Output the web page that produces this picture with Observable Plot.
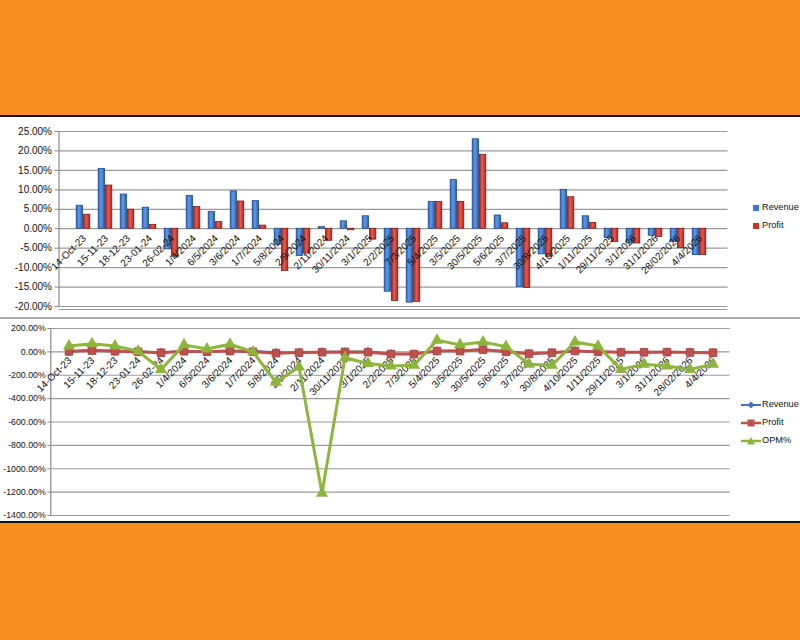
<!DOCTYPE html>
<html>
<head>
<meta charset="utf-8">
<script src="https://cdn.jsdelivr.net/npm/d3@7"></script>
<script src="https://cdn.jsdelivr.net/npm/@observablehq/plot@0.6"></script>
<style>
  html, body { margin: 0; padding: 0; }
  body { width: 800px; height: 640px; background: #F7901E; position: relative; overflow: hidden; font-family: "Liberation Sans", Arial, sans-serif; }
  #panel { position: absolute; left: 0; top: 115px; width: 800px; height: 408px; background: #fff; border-top: 2px solid #111; border-bottom: 2px solid #111; box-sizing: border-box; }
  #sep { position: absolute; left: 0; top: 317px; width: 800px; height: 2px; background: #a8a8a8; }
  #topchart, #bottomchart { position: absolute; left: 0; }
  #topchart { top: 118px; }
  #bottomchart { top: 320px; }
  .legend { position: absolute; font-size: 9.2px; color: #111; line-height: 1; }
  .legend div { height: 18px; display: flex; align-items: center; white-space: nowrap; }
  .sw { display: inline-block; width: 6px; height: 6px; margin-right: 3px; }
</style>
</head>
<body>
<div id="panel"></div>
<div id="sep"></div>
<div id="topchart"></div>
<div id="bottomchart"></div>
<div class="legend" id="leg1" style="left:753px; top:199px;">
  <div><span class="sw" style="background:#3B78CF"></span>Revenue</div>
  <div><span class="sw" style="background:#C9352C"></span>Profit</div>
</div>
<div class="legend" id="leg2" style="left:741px; top:396px;">
  <div><svg width="20" height="10" style="margin-right:1px"><line x1="0" y1="5" x2="20" y2="5" stroke="#4472C4" stroke-width="2"/><path d="M10,1.5L13.5,5L10,8.5L6.5,5Z" fill="#4472C4"/></svg>Revenue</div>
  <div><svg width="20" height="10" style="margin-right:1px"><line x1="0" y1="5" x2="20" y2="5" stroke="#C0504D" stroke-width="2.5"/><rect x="6.5" y="1.5" width="7" height="7" fill="#C0504D"/></svg>Profit</div>
  <div><svg width="20" height="10" style="margin-right:1px"><line x1="0" y1="5" x2="20" y2="5" stroke="#8DB53C" stroke-width="2.5"/><path d="M10,1L14,8.5L6,8.5Z" fill="#8DB53C"/></svg>OPM%</div>
</div>
<script>
const categories = ["14-Oct-23","15-11-23","18-12-23","23-01-24","26-02-24","1/4/2024","6/5/2024","3/6/2024","1/7/2024","5/8/2024","2/9/2024","2/11/2024","30/11/2024","3/1/2025","2/2/2025","7/3/2025","5/4/2025","3/5/2025","30/5/2025","5/6/2025","3/7/2025","30/8/2025","4/10/2025","1/11/2025","29/11/2025","3/1/2026","31/1/2026","28/02/2026","4/4/2026"];
const revenue = [5.9,15.4,8.8,5.4,-5.3,8.4,4.3,9.6,7.1,-4.1,-7.0,0.4,1.9,3.2,-16.2,-19.0,6.9,12.5,23.0,3.4,-15.0,-6.6,10.0,3.2,-2.4,-3.8,-1.8,-3.4,-6.8];
const profit = [3.6,11.1,4.9,1.0,-7.2,5.6,1.7,7.0,0.8,-10.9,-6.4,-3.1,-0.4,-2.8,-18.6,-18.8,6.9,6.9,19.0,1.4,-15.2,-7.2,8.1,1.5,-3.4,-3.8,-2.1,-5.0,-6.8];
const opm = [50,70,50,5,-150,60,25,65,0,-260,-130,-1210,-50,-100,-120,-115,100,60,85,45,-105,-115,85,50,-150,-105,-120,-150,-105];
const barTicks = [25,20,15,10,5,0,-5,-10,-15,-20];
const lineTicks = [200,0,-200,-400,-600,-800,-1000,-1200,-1400];

const rows = categories.map((c, i) => ({cat: c, revenue: revenue[i], profit: profit[i], opm: opm[i]}));
const pct = d => d.toFixed(2) + "%";

const defs = () => {
  const svg = d3.create("svg:defs");
  const mk = (id, stops) => {
    const g = svg.append("linearGradient").attr("id", id).attr("x1", "0").attr("x2", "1").attr("y1", "0").attr("y2", "0");
    stops.forEach(([o, c]) => g.append("stop").attr("offset", o).attr("stop-color", c));
  };
  mk("gBlue", [[0, "#2F62B0"], [0.45, "#5E9CEB"], [1, "#2A5CA6"]]);
  mk("gRed", [[0, "#A9271F"], [0.45, "#EA5A4F"], [1, "#A8281F"]]);
  return svg.node();
};

const chartTop = Plot.plot({
  width: 800,
  height: 198,
  marginLeft: 58.5,
  marginRight: 76.5,
  marginTop: 13,
  marginBottom: 10,
  style: {fontFamily: "'Liberation Sans', Arial, sans-serif", fontSize: "10px", color: "#111", background: "transparent"},
  x: {type: "band", domain: categories, padding: 0, axis: null},
  y: {domain: [-20, 25], axis: null},
  marks: [
    defs,
    Plot.ruleY(barTicks, {stroke: "#9a9a9a", strokeWidth: 1.2, insetRight: -4}),
    Plot.ruleY([-20], {stroke: "#9a9a9a", strokeWidth: 1.2, dy: 3, insetRight: -4}),
    Plot.frame({anchor: "left", stroke: "#8a8a8a", strokeWidth: 1.2}),
    Plot.axisY({ticks: barTicks, tickFormat: pct, tickSize: 4, tickPadding: 3, stroke: "#8a8a8a", fontSize: 10}),
    Plot.barY(rows, {x: "cat", y: "revenue", fill: "url(#gBlue)", stroke: "#1E4A8C", strokeWidth: 0.8, insetLeft: 4.2, insetRight: 11.5}),
    Plot.barY(rows, {x: "cat", y: "profit", fill: "url(#gRed)", stroke: "#7E1A14", strokeWidth: 0.8, insetLeft: 11.5, insetRight: 4.2}),
    Plot.text(rows, {x: "cat", y: () => 0, text: "cat", rotate: -45, textAnchor: "end", dy: 8, dx: 1, fontSize: 10, fill: "#111"})
  ]
});
document.getElementById("topchart").appendChild(chartTop);

const chartBottom = Plot.plot({
  width: 800,
  height: 202,
  marginLeft: 50.3,
  marginRight: 70.3,
  marginTop: 8,
  marginBottom: 7,
  style: {fontFamily: "'Liberation Sans', Arial, sans-serif", fontSize: "10px", color: "#111", background: "transparent"},
  x: {type: "band", domain: categories, padding: 0, axis: null},
  y: {domain: [-1400, 200], axis: null},
  marks: [
    Plot.ruleY(lineTicks, {stroke: "#9a9a9a", strokeWidth: 1.2}),
    Plot.frame({anchor: "left", stroke: "#8a8a8a", strokeWidth: 1.2}),
    Plot.axisY({ticks: lineTicks, tickFormat: pct, tickSize: 3, tickPadding: 2, stroke: "#8a8a8a", fontSize: 8.8}),
    Plot.text(rows, {x: "cat", y: () => 0, text: "cat", rotate: -45, textAnchor: "end", dy: 7, dx: 1, fontSize: 10, fill: "#111"}),
    Plot.line(rows, {x: "cat", y: "revenue", stroke: "#4472C4", strokeWidth: 2}),
    Plot.dot(rows, {x: "cat", y: "revenue", symbol: "diamond", r: 3, fill: "#4472C4"}),
    Plot.line(rows, {x: "cat", y: "profit", stroke: "#C0504D", strokeWidth: 3}),
    Plot.dot(rows, {x: "cat", y: "profit", symbol: "square", r: 4.3, fill: "#C0504D", stroke: "#A33A36", strokeWidth: 0.8}),
    Plot.line(rows, {x: "cat", y: "opm", stroke: "#8DB53C", strokeWidth: 3}),
    Plot.dot(rows, {x: "cat", y: "opm", symbol: "triangle", r: 4.5, fill: "#8DB53C"})
  ]
});
document.getElementById("bottomchart").appendChild(chartBottom);
</script>
</body>
</html>
